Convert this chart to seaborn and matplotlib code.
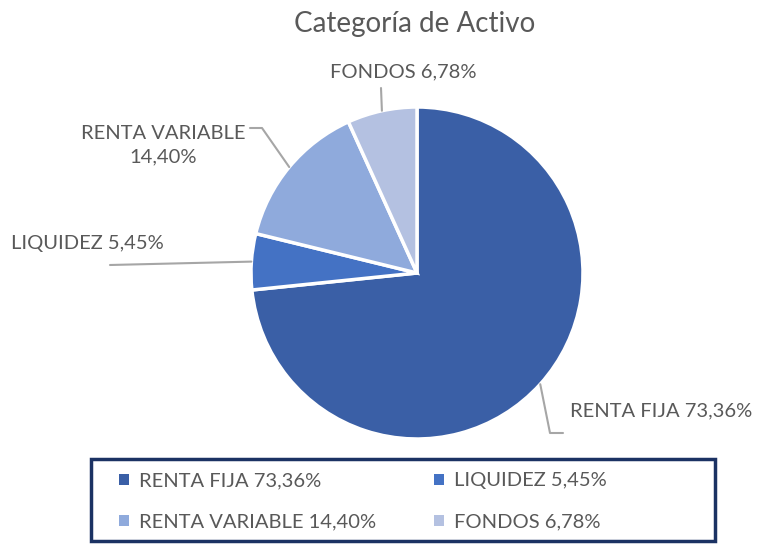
import numpy as np
import matplotlib
matplotlib.use("Agg")
import matplotlib.pyplot as plt
from matplotlib.patches import Rectangle
import seaborn as sns

# data
categorias = ["RENTA FIJA", "LIQUIDEZ", "RENTA VARIABLE", "FONDOS"]
porcentajes = [73.36, 5.45, 14.40, 6.78]
colores = ["#3A5FA6", "#4472C4", "#8FAADC", "#B4C1E1"]

sns.set_theme(style="white")
plt.rcParams['font.family'] = ['Lato', 'DejaVu Sans']
txt_color = "#595959"
fs = 14.5

W, H = 767, 544
fig = plt.figure(figsize=(W / 100, H / 100), dpi=100)

# pie geometry in pixels
cx, cy, r = 417, 273, 166
ax = fig.add_axes([(cx - r) / W, (H - cy - r) / H, 2 * r / W, 2 * r / H])
wedges, _ = ax.pie(porcentajes, colors=colores, startangle=90, counterclock=False,
                   radius=1, wedgeprops=dict(edgecolor="white", linewidth=2.5))
ax.set_xlim(-1, 1)
ax.set_ylim(-1, 1)
ax.set_aspect("equal")
ax.axis("off")

def fmt(v):
    return f"{v:.2f}".replace(".", ",") + "%"

def px(x, y):
    # pixel -> data coords of pie axes
    return (x - cx) / r, (cy - y) / r

# label text positions (pixel) and leader line elbows
layout = {
    "RENTA FIJA": dict(text=(661, 411), path=[(550, 433), (563, 433)], oneline=True),
    "LIQUIDEZ": dict(text=(87, 243), path=[(110, 265)], oneline=True),
    "RENTA VARIABLE": dict(text=(163, 145), path=[(262, 128), (250, 128)], oneline=False),
    "FONDOS": dict(text=(403, 72), path=[(381, 88)], oneline=True),
}

for w, cat, val in zip(wedges, categorias, porcentajes):
    mid = np.deg2rad((w.theta1 + w.theta2) / 2)
    x0, y0 = np.cos(mid), np.sin(mid)
    lay = layout[cat]
    pts = [(x0, y0)] + [px(*p) for p in lay["path"]]
    xs, ys = zip(*pts)
    ax.plot(xs, ys, color="#A6A6A6", lw=1.5, clip_on=False)
    label = f"{cat} {fmt(val)}" if lay["oneline"] else f"{cat}\n{fmt(val)}"
    tx, ty = px(*lay["text"])
    ax.text(tx, ty, label, ha="center", va="center", fontsize=fs, color=txt_color,
            linespacing=1.45)

fig.text(415 / W, 1 - 24 / H, "Categoría de Activo", ha="center", va="center",
         fontsize=20, color=txt_color)

# legend, filled row by row
order = [0, 2, 1, 3]
handles = [Rectangle((0, 0), 1, 1, facecolor=colores[i], edgecolor="none") for i in order]
labels = [f"{categorias[i]} {fmt(porcentajes[i])}" for i in order]
leg = fig.legend(handles, labels, loc="upper left", ncol=2,
                 bbox_to_anchor=(119 / W, 1 - 473 / H, 488 / W, 0.001), mode="expand",
                 fontsize=fs, frameon=False, handlelength=0.5,
                 handleheight=0.5, handletextpad=0.5, borderpad=0, labelspacing=1.2,
                 borderaxespad=0)
for t in leg.get_texts():
    t.set_color(txt_color)

fig.patches.append(Rectangle((91 / W, 1 - 541 / H), 624 / W, 82 / H,
                             transform=fig.transFigure, fill=False,
                             edgecolor="#1B3263", linewidth=2.5))

fig.savefig("out.png", dpi=100)
